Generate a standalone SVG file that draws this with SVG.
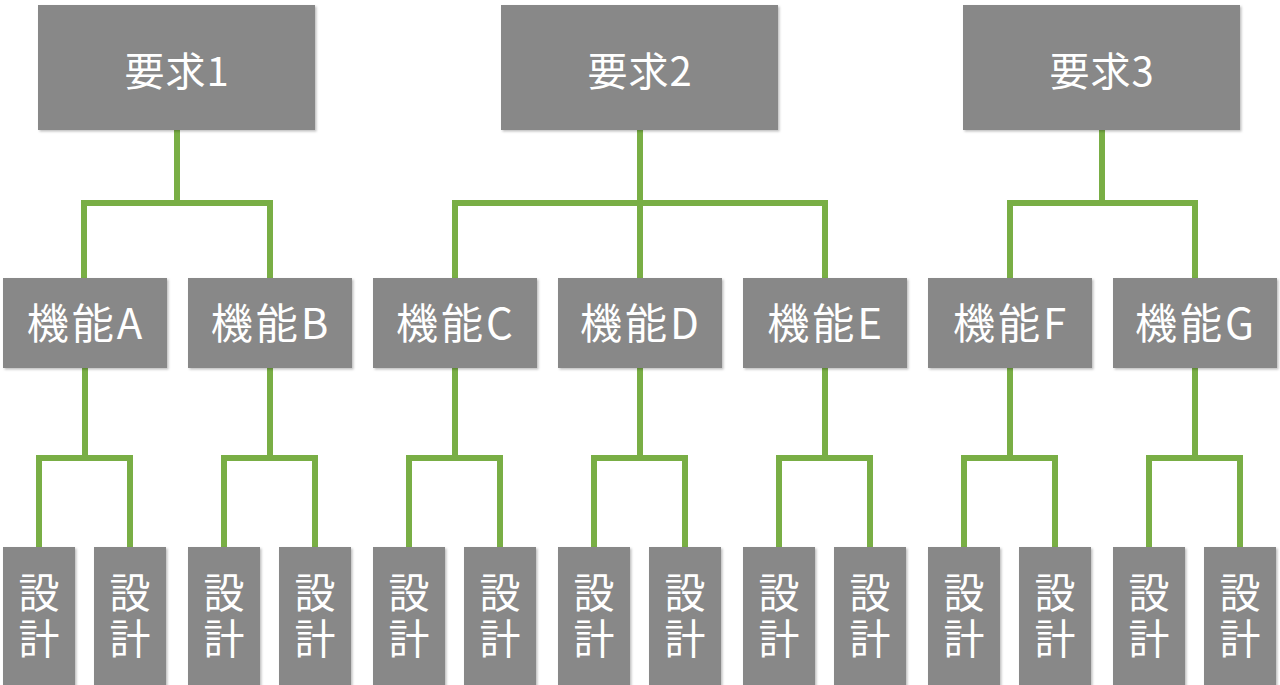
<svg xmlns="http://www.w3.org/2000/svg" width="1280" height="685" viewBox="0 0 1280 685">
<defs>
<filter id="sh" x="-10%" y="-10%" width="120%" height="120%">
<feDropShadow dx="1.5" dy="1.5" stdDeviation="1.2" flood-color="#000" flood-opacity="0.25"/>
</filter>
<style>
.box{fill:#888888;filter:url(#sh)}
.t{fill:#ffffff;font-family:"Noto Sans CJK JP","Noto Sans",sans-serif;text-anchor:middle}
.top{font-size:40px;letter-spacing:1px}
.mid{font-size:42px;letter-spacing:3px}
.bot{font-size:41px;writing-mode:vertical-rl;letter-spacing:5px}
.c{fill:none;stroke:#79ae45;stroke-width:6;stroke-linejoin:miter;stroke-linecap:butt}
</style>
</defs>
<rect width="1280" height="685" fill="#ffffff"/>
<g id="connectors">
<path class="c" d="M177,130 V203 M84,278 V203 H270 V278"/>
<path class="c" d="M640,130 V278 M455,278 V203 H825 V278"/>
<path class="c" d="M1102,130 V203 M1010,278 V203 H1195 V278"/>
<path class="c" d="M85,368 V458 M39,547 V458 H130 V547"/>
<path class="c" d="M270,368 V458 M224,547 V458 H315 V547"/>
<path class="c" d="M455,368 V458 M409,547 V458 H500 V547"/>
<path class="c" d="M640,368 V458 M594,547 V458 H685 V547"/>
<path class="c" d="M825,368 V458 M779,547 V458 H870 V547"/>
<path class="c" d="M1010,368 V458 M964,547 V458 H1055 V547"/>
<path class="c" d="M1195,368 V458 M1149,547 V458 H1240 V547"/>
</g>
<g id="req1"><rect class="box" x="38" y="5" width="277" height="125"/><text class="t top" x="177" y="86">要求1</text></g>
<g id="req2"><rect class="box" x="501" y="5" width="277" height="125"/><text class="t top" x="640" y="86">要求2</text></g>
<g id="req3"><rect class="box" x="963" y="5" width="277" height="125"/><text class="t top" x="1102" y="86">要求3</text></g>
<g id="funcA"><rect class="box" x="3" y="278" width="164" height="90"/><text class="t mid" x="86" y="339">機能A</text></g>
<g id="funcB"><rect class="box" x="188" y="278" width="164" height="90"/><text class="t mid" x="271" y="339">機能B</text></g>
<g id="funcC"><rect class="box" x="373" y="278" width="164" height="90"/><text class="t mid" x="456" y="339">機能C</text></g>
<g id="funcD"><rect class="box" x="558" y="278" width="164" height="90"/><text class="t mid" x="641" y="339">機能D</text></g>
<g id="funcE"><rect class="box" x="743" y="278" width="164" height="90"/><text class="t mid" x="826" y="339">機能E</text></g>
<g id="funcF"><rect class="box" x="928" y="278" width="164" height="90"/><text class="t mid" x="1011" y="339">機能F</text></g>
<g id="funcG"><rect class="box" x="1113" y="278" width="164" height="90"/><text class="t mid" x="1196" y="339">機能G</text></g>
<g id="d1"><rect class="box" x="3" y="547" width="72" height="145"/><text class="t bot" x="39" y="618">設計</text></g>
<g id="d2"><rect class="box" x="94" y="547" width="72" height="145"/><text class="t bot" x="130" y="618">設計</text></g>
<g id="d3"><rect class="box" x="188" y="547" width="72" height="145"/><text class="t bot" x="224" y="618">設計</text></g>
<g id="d4"><rect class="box" x="279" y="547" width="72" height="145"/><text class="t bot" x="315" y="618">設計</text></g>
<g id="d5"><rect class="box" x="373" y="547" width="72" height="145"/><text class="t bot" x="409" y="618">設計</text></g>
<g id="d6"><rect class="box" x="464" y="547" width="72" height="145"/><text class="t bot" x="500" y="618">設計</text></g>
<g id="d7"><rect class="box" x="558" y="547" width="72" height="145"/><text class="t bot" x="594" y="618">設計</text></g>
<g id="d8"><rect class="box" x="649" y="547" width="72" height="145"/><text class="t bot" x="685" y="618">設計</text></g>
<g id="d9"><rect class="box" x="743" y="547" width="72" height="145"/><text class="t bot" x="779" y="618">設計</text></g>
<g id="d10"><rect class="box" x="834" y="547" width="72" height="145"/><text class="t bot" x="870" y="618">設計</text></g>
<g id="d11"><rect class="box" x="928" y="547" width="72" height="145"/><text class="t bot" x="964" y="618">設計</text></g>
<g id="d12"><rect class="box" x="1019" y="547" width="72" height="145"/><text class="t bot" x="1055" y="618">設計</text></g>
<g id="d13"><rect class="box" x="1113" y="547" width="72" height="145"/><text class="t bot" x="1149" y="618">設計</text></g>
<g id="d14"><rect class="box" x="1204" y="547" width="72" height="145"/><text class="t bot" x="1240" y="618">設計</text></g>
</svg>
